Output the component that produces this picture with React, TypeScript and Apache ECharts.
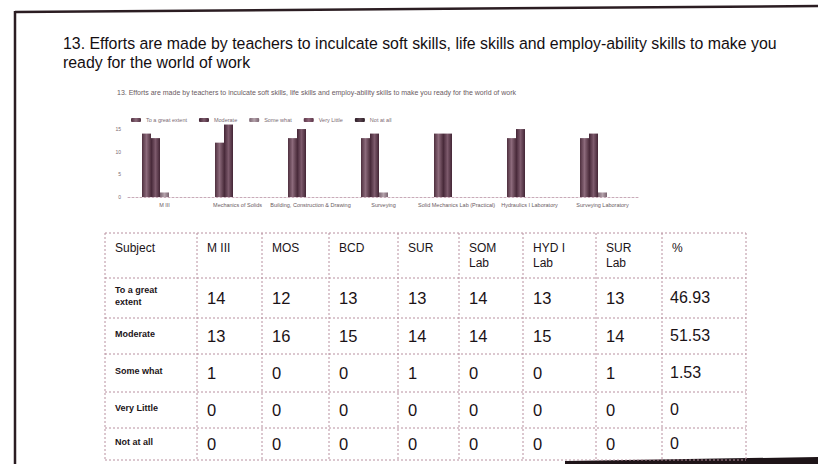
import React, { useEffect, useRef } from "react";
import * as echarts from "echarts";

const pageTitle1 = "13. Efforts are made by teachers to inculcate soft skills, life skills and employ-ability skills to make you";
const pageTitle2 = "ready for the world of work";
const chartTitle = "13. Efforts are made by teachers to inculcate soft skills, life skills and employ-ability skills to make you ready for the world of work";

const categories = [
  "M III",
  "Mechanics of Solids",
  "Building, Construction & Drawing",
  "Surveying",
  "Solid Mechanics Lab (Practical)",
  "Hydraulics I Laboratory",
  "Surveying Laboratory",
];
const seriesNames = ["To a great extent", "Moderate", "Some what", "Very Little", "Not at all"];
const greatExtent = [14, 12, 13, 13, 14, 13, 13];
const moderate = [13, 16, 15, 14, 14, 15, 14];
const someWhat = [1, 0, 0, 1, 0, 0, 1];
const veryLittle = [0, 0, 0, 0, 0, 0, 0];
const notAtAll = [0, 0, 0, 0, 0, 0, 0];
const yTickLabels = [0, 5, 10, 15];

const headerLabels = ["Subject", "M III", "MOS", "BCD", "SUR", "SOM\nLab", "HYD I\nLab", "SUR\nLab", "%"];
const rowLabels = ["To a great\nextent", "Moderate", "Some what", "Very Little", "Not at all"];
const percents = ["46.93", "51.53", "1.53", "0", "0"];

const seriesValues = [greatExtent, moderate, someWhat, veryLittle, notAtAll];
const seriesColors = [
  ["#4e2f3e", "#8c6a7b", "#4e2f3e"],
  ["#432535", "#7d5a6c", "#432535"],
  ["#7a6470", "#b4a2ab", "#7a6470"],
  ["#5a3346", "#8e6478", "#5a3346"],
  ["#2c1d25", "#5a4450", "#2c1d25"],
];

const colX = [105, 197, 262, 329, 398, 459, 523, 596, 662, 746];
const rowY = [233, 278, 318, 354, 392, 428, 460];

const FONT = "'Liberation Sans', Arial, sans-serif";

function buildTable(): any[] {
  const els: any[] = [];
  const lineStyle = { stroke: "#b8909f", lineWidth: 1, lineDash: [2, 2] };
  rowY.forEach((y) => {
    els.push({ type: "line", shape: { x1: colX[0], y1: y, x2: colX[colX.length - 1], y2: y }, style: lineStyle, silent: true });
  });
  colX.forEach((x) => {
    els.push({ type: "line", shape: { x1: x, y1: rowY[0], x2: x, y2: rowY[rowY.length - 1] }, style: lineStyle, silent: true });
  });
  headerLabels.forEach((h, i) => {
    els.push({
      type: "text",
      x: colX[i] + 10,
      y: rowY[0] + 8,
      style: { text: h, fontSize: 12, lineHeight: 14.5, fontFamily: FONT, fill: "#1c1418", verticalAlign: "top", align: "left" },
    });
  });
  rowLabels.forEach((r, ri) => {
    const cy = (rowY[ri + 1] + rowY[ri + 2]) / 2;
    els.push({
      type: "text",
      x: colX[0] + 10,
      y: cy - 2,
      style: { text: r, fontSize: 9, lineHeight: 12, fontWeight: "bold", fontFamily: FONT, fill: "#1c1418", verticalAlign: "middle", align: "left" },
    });
    seriesValues[ri].forEach((v, ci) => {
      els.push({
        type: "text",
        x: colX[ci + 1] + 10,
        y: cy,
        style: { text: String(v), fontSize: 16.5, fontFamily: FONT, fill: "#1a1216", verticalAlign: "middle", align: "left" },
      });
    });
    els.push({
      type: "text",
      x: colX[8] + 8,
      y: cy - 1,
      style: { text: percents[ri], fontSize: 16, fontFamily: FONT, fill: "#1a1216", verticalAlign: "middle", align: "left" },
    });
  });
  return els;
}

export default function App() {
  const ref = useRef<HTMLDivElement>(null);
  useEffect(() => {
    if (!ref.current) return;
    const chart = echarts.init(ref.current, null, { renderer: "svg" });
    const option: any = {
      animation: false,
      backgroundColor: "#ffffff",
      title: {
        text: chartTitle,
        left: 112,
        top: 84,
        textStyle: { fontSize: 7, fontWeight: "normal", color: "#6a5a62", fontFamily: FONT },
      },
      legend: {
        data: seriesNames,
        left: 126,
        top: 112,
        itemWidth: 10,
        itemHeight: 4,
        itemGap: 12,
        textStyle: { fontSize: 5.5, color: "#7a6a72", fontFamily: FONT },
      },
      grid: { left: 128, right: 179, top: 120, bottom: 267, containLabel: false },
      xAxis: {
        type: "category",
        data: categories,
        axisLine: { lineStyle: { color: "#c8aab8", type: [2, 2], width: 1 } },
        axisTick: { show: false },
        axisLabel: { interval: 0, fontSize: 5.5, color: "#6a5a62", margin: 5, fontFamily: FONT },
      },
      yAxis: {
        type: "value",
        min: 0,
        max: 17,
        interval: 5,
        axisLine: { show: false },
        axisTick: { show: false },
        splitLine: { show: false },
        axisLabel: {
          fontSize: 5,
          color: "#7a6a72",
          margin: 7,
          fontFamily: FONT,
          formatter: (v: number) => (yTickLabels.indexOf(v) >= 0 ? String(v) : ""),
        },
      },
      series: seriesNames.map((name, i) => ({
        name,
        type: "bar",
        data: seriesValues[i],
        barWidth: 9,
        barGap: "0%",
        itemStyle: {
          color: new echarts.graphic.LinearGradient(0, 0, 1, 0, [
            { offset: 0, color: seriesColors[i][0] },
            { offset: 0.5, color: seriesColors[i][1] },
            { offset: 1, color: seriesColors[i][2] },
          ]),
        },
      })),
      graphic: [
        { type: "line", shape: { x1: 15, y1: 12, x2: 818, y2: 6 }, style: { stroke: "#2b1d22", lineWidth: 2.5 }, silent: true },
        { type: "line", shape: { x1: 15, y1: 11, x2: 15, y2: 464 }, style: { stroke: "#2b1d22", lineWidth: 2.5 }, silent: true },
        {
          type: "polygon",
          shape: { points: [[565, 461], [818, 457], [818, 464], [565, 464]] },
          style: { fill: "#1e1418" },
          silent: true,
        },
        {
          type: "text",
          x: 63,
          y: 43,
          scaleX: 0.935,
          style: { text: pageTitle1, fontSize: 17, fontFamily: FONT, fill: "#140e11", verticalAlign: "middle" },
        },
        {
          type: "text",
          x: 63,
          y: 62,
          scaleX: 0.935,
          style: { text: pageTitle2, fontSize: 17, fontFamily: FONT, fill: "#140e11", verticalAlign: "middle" },
        },
        ...buildTable(),
      ],
    };
    chart.setOption(option);
    return () => chart.dispose();
  }, []);
  return <div ref={ref} style={{ position: "fixed", left: 0, top: 0, width: 818, height: 464 }} />;
}
